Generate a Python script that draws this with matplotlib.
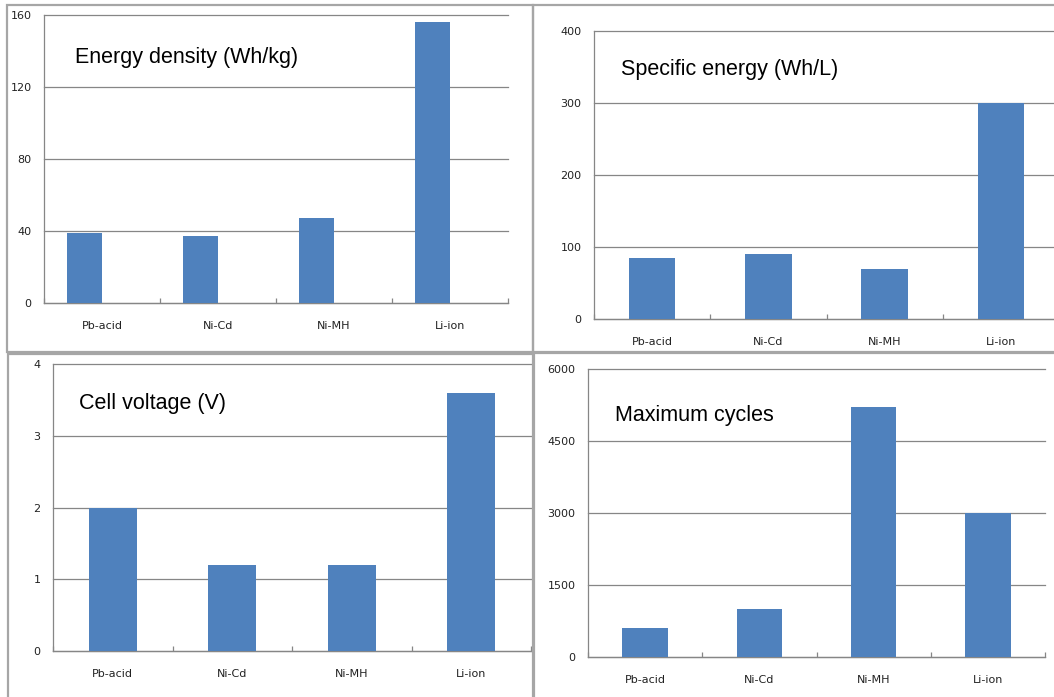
import numpy as np
import matplotlib
matplotlib.use("Agg")
import matplotlib.pyplot as plt
from matplotlib.patches import Rectangle

W, H = 1054, 697

categories = ["Pb-acid", "Ni-Cd", "Ni-MH", "Li-ion"]
energy_density = [39, 37, 47, 156]      # Wh/kg
specific_energy = [85, 90, 70, 300]     # Wh/L
cell_voltage = [2.0, 1.2, 1.2, 3.6]     # V
max_cycles = [600, 1000, 5200, 3000]

ticks_energy = [0, 40, 80, 120, 160]
ticks_specific = [0, 100, 200, 300, 400]
ticks_voltage = [0, 1, 2, 3, 4]
ticks_cycles = [0, 1500, 3000, 4500, 6000]

BLUE = "#4f81bd"
GRID = "#868686"
FRAME = "#a6a6a6"

# (values, yticks, title, plot box px [l, t, r, b], title pos px, bar width, bar shift)
panels = [
    (energy_density, ticks_energy, "Energy density (Wh/kg)", [44, 15, 508, 303], (75, 57), 0.3, -0.15),
    (specific_energy, ticks_specific, "Specific energy (Wh/L)", [594, 31, 1059, 319], (621, 70), 0.4, 0.0),
    (cell_voltage, ticks_voltage, "Cell voltage (V)", [53, 364, 531, 651], (79, 403), 0.4, 0.0),
    (max_cycles, ticks_cycles, "Maximum cycles", [588, 369, 1045, 657], (615, 415), 0.4, 0.0),
]

# outer chart frames, px [x0, y0, x1, y1]
frames = [
    [7, 5, 533, 352],
    [533, 5, 1070, 352],
    [8, 354, 533, 710],
    [534, 353, 1070, 710],
]

fig = plt.figure(figsize=(W / 100, H / 100), dpi=100)
fig.patch.set_facecolor("white")

for x0, y0, x1, y1 in frames:
    fig.add_artist(Rectangle((x0 / W, 1 - y1 / H), (x1 - x0) / W, (y1 - y0) / H,
                             transform=fig.transFigure, fill=False,
                             edgecolor=FRAME, linewidth=1.6))

for values, yticks, title, (l, t, r, b), (tx, ty), bw, shift in panels:
    ax = fig.add_axes([l / W, 1 - b / H, (r - l) / W, (b - t) / H])
    x = np.arange(len(categories))
    ax.bar(x + shift, values, width=bw, color=BLUE, zorder=3)
    ax.set_xlim(-0.5, len(categories) - 0.5)
    ax.set_ylim(0, yticks[-1])
    ax.set_yticks(yticks)
    ax.set_yticklabels([str(v) for v in yticks])
    ax.set_xticks(x)
    ax.set_xticklabels(categories)
    ax.set_xticks(np.arange(len(categories) + 1) - 0.5, minor=True)
    ax.yaxis.grid(True, color=GRID, linewidth=0.9)
    for gl in ax.get_ygridlines():
        gl.set_clip_on(False)
    ax.set_axisbelow(True)
    for s in ("top", "right"):
        ax.spines[s].set_visible(False)
    for s in ("left", "bottom"):
        ax.spines[s].set_color(GRID)
        ax.spines[s].set_linewidth(0.9)
    ax.tick_params(axis="y", length=0, pad=9, labelsize=8, labelcolor="#222222")
    ax.tick_params(axis="x", which="major", length=0, pad=13, labelsize=8, labelcolor="#222222")
    ax.tick_params(axis="x", which="minor", direction="in", length=3.5, color=GRID, width=0.9)
    fig.text(tx / W, 1 - ty / H, title, fontsize=15.5, family="Liberation Sans",
             ha="left", va="center", color="black")

fig.savefig("out.png", dpi=100, facecolor="white")
